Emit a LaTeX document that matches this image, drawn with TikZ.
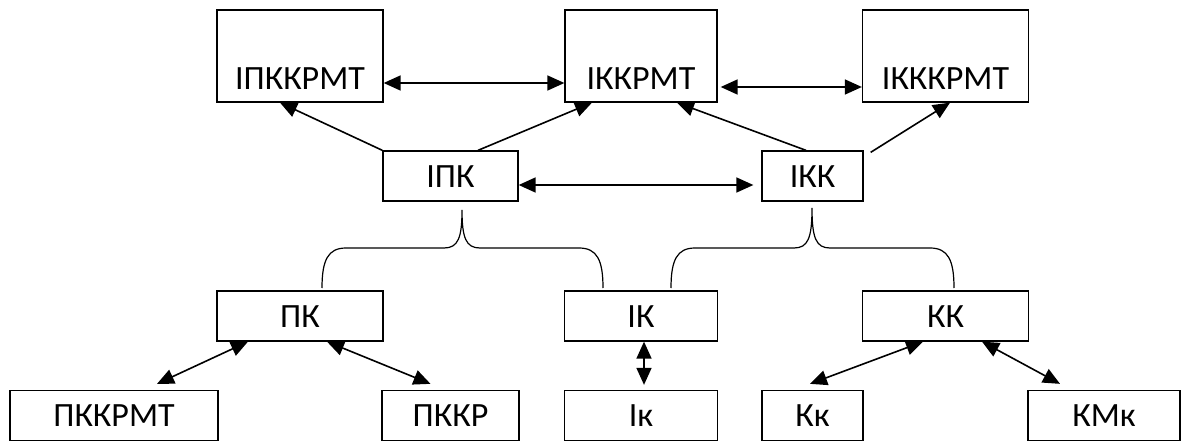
\documentclass[tikz,border=0pt]{standalone}
\usepackage{fontspec}
\setmainfont{Carlito}
\usepackage{tikz}
\usetikzlibrary{positioning, arrows.meta}
\tikzset{node distance=260pt, % centre to centre, one row down
every node/.style={font=\fontsize{34}{40}\selectfont},
box/.style={ % the small boxes
draw, line width=1.3pt, inner sep=0pt,
minimum width=166pt, minimum height=50pt,
text height=22pt, text depth=0pt},
topbox/.style={ % the tall boxes of the top row, text sits low
box, minimum height=92pt, text height=80pt, text depth=12pt},
link/.style={ % every arrow
draw, line width=1.6pt, >={Triangle[length=17pt,width=15pt]}},
brace/.style={draw, line width=1.2pt}}

\begin{document}
\begin{tikzpicture}[x=1pt, y=-1pt]
    \useasboundingbox (0,0) rectangle (1182,441);

    % top row
    \node[topbox] (ipkkrmt) at (300,56) {ІПККРМТ};
    \node[topbox, minimum width=152pt, right of=ipkkrmt, node distance=341pt] (ikkrmt) {ІККРМТ};
    \node[topbox, right of=ikkrmt, node distance=304.5pt] (ikkkrmt) {ІКККРМТ};

    % second row
    \node[box, minimum width=135pt] (ipk) at (450.5,176) {ІПК};
    \node[box, minimum width=101pt, right of=ipk, node distance=362pt] (ikk) {ІКК};

    % third row
    \node[box, below of=ipkkrmt] (pk) {ПК};
    \node[box, minimum width=153pt, below of=ikkrmt] (ik) {ІК};
    \node[box, below of=ikkkrmt] (kk) {КК};

    % bottom row
    \node[box, minimum width=208pt] (pkkrmt) at (114,415.5) {ПККРМТ};
    \node[box, minimum width=137pt, below of=ipk, node distance=239.5pt] (pkkr) {ПККР};
    \node[box, minimum width=153pt, below of=ik, node distance=99.5pt] (iks) {Ік};
    \node[box, minimum width=101pt, below of=ikk, node distance=239.5pt] (kks) {Кк};
    \node[box, minimum width=152pt] (kmk) at (1104,415.5) {КМк};

    \draw[link, <->] ([yshift=-27pt]ipkkrmt.east) -- ([yshift=-27pt]ikkrmt.west);
    \draw[link, <->, shorten <=3pt] ([yshift=-31pt]ikkrmt.east) -- ([yshift=-31pt]ikkkrmt.west);
    \draw[link, ->] (ipk.north west) -- ([xshift=-20pt]ipkkrmt.south);
    \draw[link, ->] ([xshift=27.5pt]ipk.north) -- ([xshift=-49pt]ikkrmt.south);
    \draw[link, ->] ([xshift=-6.5pt]ikk.north) -- ([xshift=36pt]ikkrmt.south);
    \draw[link, ->] ([xshift=7pt,yshift=-2pt]ikk.north east) -- ([xshift=4.5pt]ikkkrmt.south);
    \draw[link, <->, shorten >=8pt] ([yshift=-9pt]ipk.east) -- ([yshift=-9pt]ikk.west);

    \draw[link, <->] ([xshift=-52pt]pk.south) -- ([xshift=43pt,yshift=6pt]pkkrmt.north);
    \draw[link, <->] ([xshift=27pt]pk.south) -- ([xshift=-20pt,yshift=6pt]pkkr.north);
    \draw[link, <->] ([xshift=3pt]ik.south) -- ([xshift=3pt,yshift=5pt]iks.north);
    \draw[link, <->] ([xshift=-22.5pt]kk.south) -- ([xshift=-2.5pt,yshift=6pt]kks.north);
    \draw[link, <->] ([xshift=36.5pt]kk.south) -- ([xshift=-44pt,yshift=6pt]kmk.north);

    % braces
    \coordinate (b1l) at (322,288);
    \coordinate (b1t) at (462,210);
    \coordinate (b1r) at (603,288);
    \coordinate (b2l) at (671,288);
    \coordinate (b2t) at (812,208);
    \coordinate (b2r) at (954,288);
    \draw[brace] (b1l) .. controls (322,260) and (328,248) .. (346,248) -- (444,248)
        .. controls (458,248) and (462,238) .. (b1t)
        .. controls (462,238) and (466,248) .. (480,248) -- (579,248)
        .. controls (597,248) and (603,260) .. (b1r);
    \draw[brace] (b2l) .. controls (671,260) and (677,248) .. (695,248) -- (794,248)
        .. controls (808,248) and (812,238) .. (b2t)
        .. controls (812,238) and (816,248) .. (830,248) -- (930,248)
        .. controls (948,248) and (954,260) .. (b2r);

\end{tikzpicture}
\end{document}
